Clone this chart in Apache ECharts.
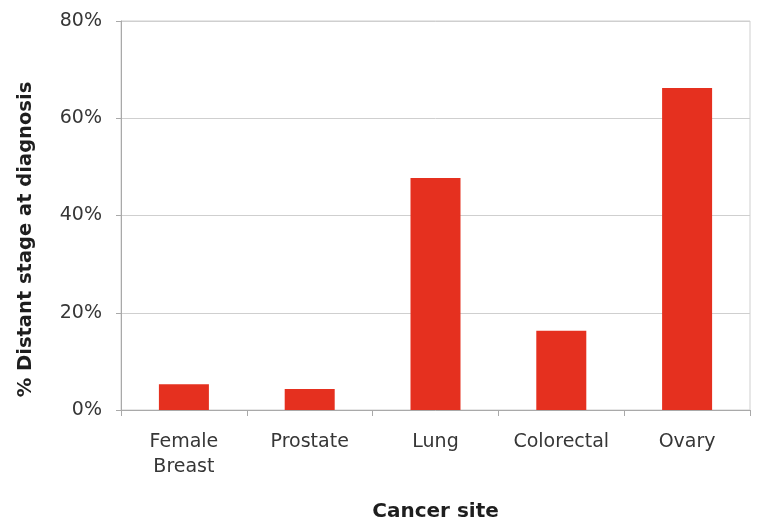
<!DOCTYPE html>
<html>
<head>
<meta charset="utf-8">
<script src="https://cdn.jsdelivr.net/npm/echarts@6/dist/echarts.min.js"></script>
<style>
  html, body { margin: 0; padding: 0; background: #ffffff; }
  #chart { width: 760px; height: 523px; }
</style>
</head>
<body>
<div id="chart"></div>
<script>
// Share of cases diagnosed at distant stage, by cancer site
const categories = ['Female\nBreast', 'Prostate', 'Lung', 'Colorectal', 'Ovary'];
const distantStagePct = [5.3, 4.3, 47.7, 16.3, 66.2];
const yTicks = [0, 20, 40, 60, 80];

const textColor = '#363636';
const fontFamily = '"DejaVu Sans", Verdana, sans-serif';

const chart = echarts.init(document.getElementById('chart'), null, { renderer: 'canvas' });

chart.setOption({
  animation: false,
  backgroundColor: '#ffffff',
  grid: {
    left: 121,
    right: 10,
    top: 21,
    bottom: 113,
    outerBoundsMode: 'none',
    containLabel: false,
    show: true,
    borderColor: '#cfcfcf',
    borderWidth: 1
  },
  xAxis: {
    type: 'category',
    data: categories,
    name: 'Cancer site',
    nameLocation: 'middle',
    nameGap: 92,
    nameTextStyle: { color: '#1e1e1e', fontFamily, fontSize: 20, fontWeight: 'bold' },
    axisLine: { lineStyle: { color: '#a9a9a9', width: 1 } },
    axisTick: { show: true, alignWithLabel: false, length: 6, lineStyle: { color: '#a9a9a9' } },
    axisLabel: { color: textColor, fontFamily, fontSize: 19, margin: 20, lineHeight: 25, interval: 0 }
  },
  yAxis: {
    type: 'value',
    min: yTicks[0],
    max: yTicks[yTicks.length - 1],
    interval: 20,
    name: '% Distant stage at diagnosis',
    nameLocation: 'middle',
    nameGap: 85,
    // extra right padding nudges the rotated title down along the axis
    nameTextStyle: { color: '#1e1e1e', fontFamily, fontSize: 19.5, fontWeight: 'bold', padding: [0, 48, 0, 0] },
    axisLine: { show: true, lineStyle: { color: '#a9a9a9', width: 1 } },
    axisTick: { show: true, length: 5, lineStyle: { color: '#a9a9a9' } },
    axisLabel: { color: textColor, fontFamily, fontSize: 19, margin: 19, formatter: v => v + '%' },
    splitLine: { show: true, lineStyle: { color: '#cfcfcf', width: 1 } }
  },
  series: [{
    type: 'bar',
    data: distantStagePct,
    barWidth: 50,
    itemStyle: { color: '#e5301f' }
  }]
});
</script>
</body>
</html>
